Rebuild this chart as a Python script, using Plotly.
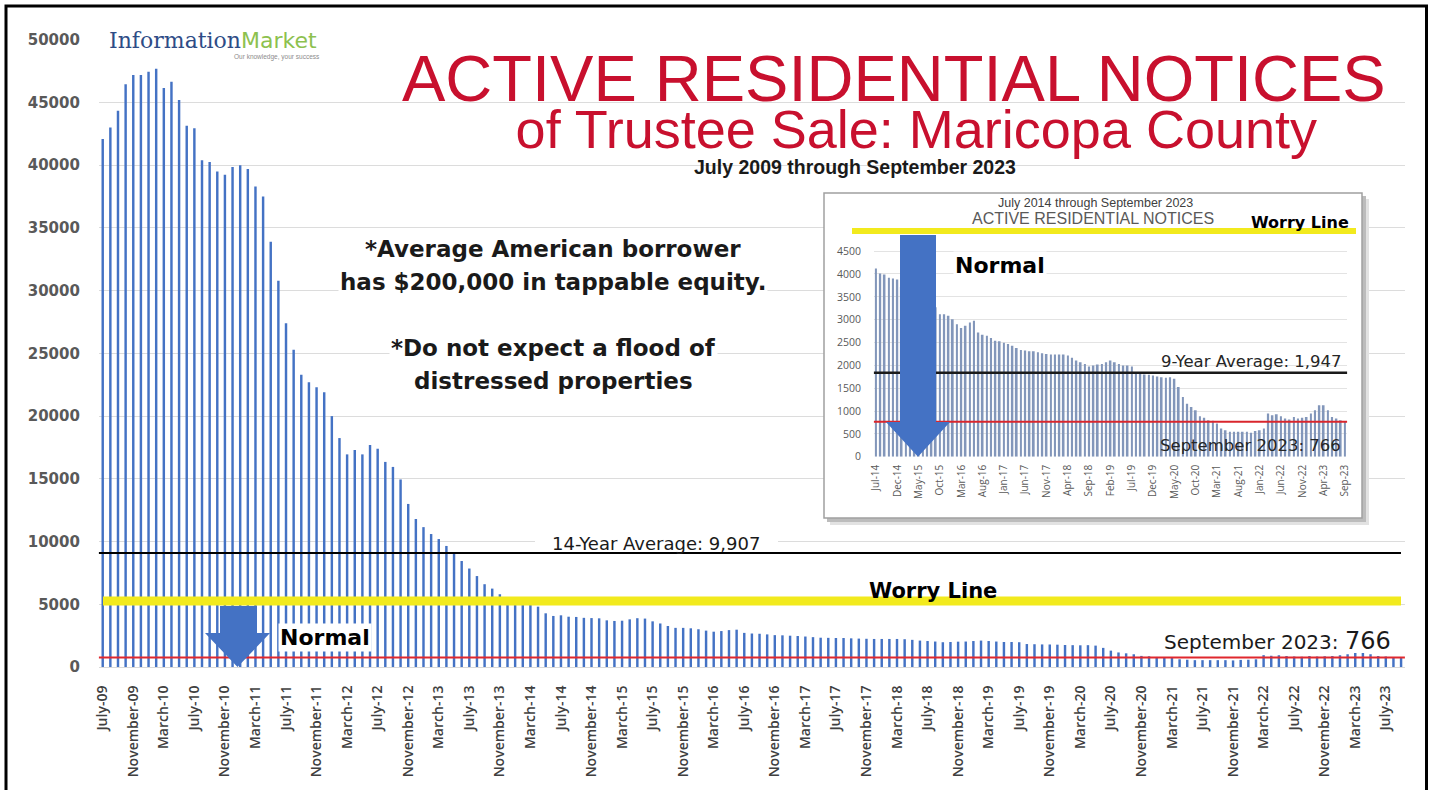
import pandas as pd
import plotly.graph_objects as go

W, H = 1433, 790

# monthly counts, July 2009 .. September 2023
months = pd.date_range("2009-07-01", "2023-09-01", freq="MS")
notices = [
    # 2009 (Jul-Dec)
    42100, 43000, 44350, 46450, 47200, 47200,
    # 2010
    47450, 47700, 46150, 46650, 45200, 43150, 42950, 40400, 40250, 39500, 39250, 39850,
    # 2011
    40000, 39700, 38300, 37500, 33900, 30800, 27400, 25300, 23300, 22700, 22300, 21900,
    # 2012
    20000, 18250, 16950, 17300, 16950, 17700, 17400, 16350, 15950, 14950, 13000, 11800,
    # 2013
    11150, 10600, 10200, 9650, 9100, 8450, 7850, 7250, 6600, 6250, 5800, 5500,
    # 2014
    5300, 5150, 5000, 4810, 4280, 4070, 4120, 4010, 3990, 3920, 3900, 3880,
    # 2015
    3720, 3670, 3690, 3800, 3890, 3860, 3640, 3470, 3270, 3120, 3120, 3085,
    # 2016
    3010, 2900, 2815, 2865, 2940, 2975, 2720, 2670, 2650, 2600, 2540, 2525,
    # 2017
    2495, 2470, 2430, 2380, 2335, 2325, 2310, 2310, 2285, 2265, 2250, 2235,
    # 2018
    2235, 2235, 2235, 2215, 2165, 2105, 2070, 2030, 1975, 1995, 2020, 2030,
    # 2019
    2070, 2105, 2070, 2030, 1995, 1995, 1975, 1830, 1815, 1800, 1795, 1780,
    # 2020
    1755, 1740, 1730, 1740, 1705, 1525, 1305, 1160, 1090, 1015, 885, 855,
    # 2021
    800, 785, 725, 615, 580, 545, 545, 545, 545, 545, 525, 565,
    # 2022
    580, 615, 945, 905, 930, 885, 835, 815, 870, 835, 855, 870,
    # 2023 (Jan-Sep)
    945, 1015, 1125, 1125, 1015, 870, 835, 800, 766,
]

avg_14yr_level = 9080
avg_9yr_level = 1840
current_level = 766
worry_main = 5260

inset_start = 60  # July 2014
inset_months = months[inset_start:]
inset_notices = notices[inset_start:]

main_ticks = list(range(0, len(months), 4))
main_ticktext = [months[i].strftime("%B-%y") for i in main_ticks]
inset_ticks = list(range(0, len(inset_months), 5))
inset_ticktext = [inset_months[i].strftime("%b-%y") for i in inset_ticks]

RED = "#C8102E"
BLUE = "#4472C4"
YELLOW = "#F2EA1D"


def px(x):
    return x / W


def py(y):
    return 1 - y / H


# pixel -> data helpers for the decorations
def mx(x):
    return (x - 102.72) / 7.6374


def my(y):
    return (667 - y) / 0.012544


def ix(x):
    return (x - 876.03) / 4.263


def iy(y):
    return (456.7 - y) / 0.04567


fig = go.Figure()
fig.add_trace(go.Bar(x=list(range(len(notices))), y=notices, width=0.32,
                     marker=dict(color=BLUE, line_width=0), hoverinfo="skip"))
fig.add_trace(go.Bar(x=list(range(len(inset_notices))), y=inset_notices, width=0.42,
                     marker=dict(color="#8296BA", line_width=0), xaxis="x2", yaxis="y2",
                     hoverinfo="skip"))

fig.update_layout(
    width=W, height=H, margin=dict(l=0, r=0, t=0, b=0, autoexpand=False),
    paper_bgcolor="white", plot_bgcolor="white", showlegend=False,
    xaxis=dict(domain=[px(98.9), px(1404.9)], range=[-0.5, 170.5], tickmode="array",
               tickvals=main_ticks, ticktext=main_ticktext, tickangle=-90,
               tickfont=dict(family="Open Sans", size=14, color="#404040", weight=600),
               showgrid=False, showline=True, linecolor="#d9d9d9", zeroline=False,
               ticks="", ticklabelstandoff=12),
    yaxis=dict(domain=[py(667), py(39.8)], range=[0, 50000],
               tickvals=list(range(0, 50001, 5000)), tickformat="d",
               tickfont=dict(family="DejaVu Sans", size=15, color="#595959", weight="bold"),
               showgrid=True, gridcolor="#dcdcdc", zeroline=False, ticks="",
               ticklabelstandoff=18),
    xaxis2=dict(domain=[px(873.9), px(1347.1)], anchor="y2", range=[-0.5, 110.5],
                tickmode="array", tickvals=inset_ticks, ticktext=inset_ticktext,
                tickangle=-90, tickfont=dict(family="Open Sans", size=10, color="#595959"),
                showgrid=False, zeroline=False, ticks="", ticklabelstandoff=5),
    yaxis2=dict(domain=[py(456.7), py(230.6)], anchor="x2", range=[0, 4950],
                tickvals=list(range(0, 4501, 500)), tickformat="d",
                tickfont=dict(family="Open Sans", size=10.5, color="#595959"),
                showgrid=True, gridcolor="#e3e3e3", zeroline=False, ticks="",
                ticklabelstandoff=12),
)


def arrow_path(xf, yf, shaft, head, top, neck, tip):
    tx = (head[0] + head[1]) / 2
    pts = [(shaft[0], top), (shaft[1], top), (shaft[1], neck), (head[1], neck),
           (tx, tip), (head[0], neck), (shaft[0], neck)]
    return "M " + " L ".join(f"{xf(a):.3f},{yf(b):.3f}" for a, b in pts) + " Z"


shapes = [
    # inset card with soft shadow, above main gridlines
    dict(type="rect", xref="x", yref="y", layer="between", x0=mx(830), x1=mx(1369),
         y0=my(525), y1=my(199), fillcolor="#e2e2e2", line_width=0),
    dict(type="rect", xref="x", yref="y", layer="between", x0=mx(827), x1=mx(1366),
         y0=my(522), y1=my(196), fillcolor="#bcbcbc", line_width=0),
    dict(type="rect", xref="x", yref="y", layer="between", x0=mx(824), x1=mx(1362),
         y0=my(518), y1=my(193), fillcolor="white", line=dict(color="#a0a0a0", width=1.5)),
    # white patch hiding the gridline behind the average label
    dict(type="rect", xref="x", yref="y", layer="between", x0=mx(535), x1=mx(778),
         y0=my(549), y1=my(534), fillcolor="white", line_width=0),
    # main reference lines
    dict(type="line", xref="x domain", yref="y", x0=0, x1=0.997,
         y0=avg_14yr_level, y1=avg_14yr_level, line=dict(color="black", width=2)),
    dict(type="line", xref="x", yref="y", x0=mx(103), x1=mx(1401),
         y0=worry_main, y1=worry_main, line=dict(color=YELLOW, width=9)),
    dict(type="line", xref="x domain", yref="y", x0=0, x1=1,
         y0=current_level, y1=current_level, line=dict(color="#E0282E", width=2)),
    dict(type="path", xref="x", yref="y", fillcolor=BLUE, line_width=0,
         path=arrow_path(mx, my, (220, 257), (205, 270), 606, 633, 667)),
    # inset reference lines
    dict(type="line", xref="x2 domain", yref="y2", x0=0, x1=1,
         y0=avg_9yr_level, y1=avg_9yr_level, line=dict(color="#1a1a1a", width=2.5)),
    dict(type="line", xref="x2 domain", yref="y2", x0=0, x1=1,
         y0=current_level, y1=current_level, line=dict(color="#D9262C", width=2)),
    dict(type="line", xref="x2 domain", yref="y2 domain", x0=(852 - 873.9) / 473.2,
         x1=(1356 - 873.9) / 473.2, y0=(456.7 - 231) / 226.1, y1=(456.7 - 231) / 226.1,
         line=dict(color=YELLOW, width=6)),
    dict(type="path", xref="x2", yref="y2", fillcolor=BLUE, line_width=0,
         path=arrow_path(ix, iy, (900, 936), (886, 950), 235, 422, 456.7)),
    # outer frame
    dict(type="rect", xref="paper", yref="paper", x0=px(6), x1=px(1426.5),
         y0=py(800), y1=py(6), line=dict(color="black", width=3)),
]
fig.update_layout(shapes=shapes)


def note(x, y, text, size, color="#1a1a1a", family="DejaVu Sans", weight="normal",
         xanchor="center", yanchor="middle", bg=None, **kw):
    d = dict(xref="paper", yref="paper", x=px(x), y=py(y), text=text, showarrow=False,
             xanchor=xanchor, yanchor=yanchor,
             font=dict(family=family, size=size, color=color, weight=weight))
    if bg:
        d.update(bgcolor=bg, borderpad=1)
    d.update(kw)
    return d


logo = ("<span style='font-family:DejaVu Serif;color:#2E4C86'>Information</span>"
        "<span style='font-family:DejaVu Sans;color:#8DC14F'>Market</span>")
title = ("<span style='font-size:65px'>ACTIVE RESIDENTIAL NOTICES</span><br>"
         "<span style='font-size:54px'>&nbsp;&nbsp;&nbsp;of Trustee Sale: Maricopa County</span>")

annotations = [
    note(107, 40, logo, 22, xanchor="left"),
    note(322, 57, "Our knowledge, your success", 6.5, color="#8c8c8c",
         family="Liberation Sans", xanchor="right"),
    note(894, 100, title, 36, color=RED, family="Liberation Sans"),
    note(855, 167, "July 2009 through September 2023", 19.5, family="Liberation Sans",
         weight="bold"),
    note(553, 249, "*Average American borrower", 23, weight="bold", bg="white"),
    note(553, 282, "has $200,000 in tappable equity.", 23, weight="bold", bg="white"),
    note(553, 348, "*Do not expect a flood of", 23, weight="bold", bg="white"),
    note(553, 381, "distressed properties", 23, weight="bold", bg="white"),
    note(656, 543, "14-Year Average: 9,907", 18),
    note(933, 591, "Worry Line", 21, color="black", weight="bold"),
    note(324.5, 637.5, "Normal", 22, color="black", weight="bold", bg="white"),
    note(1393, 641, "September 2023: <span style='font-size:24px'>766</span>", 20,
         xanchor="right"),
    # inset texts
    note(1095, 203, "July 2014 through September 2023", 12.5, color="#404040",
         family="Liberation Sans"),
    note(1093, 219, "ACTIVE RESIDENTIAL NOTICES", 16, color="#595959",
         family="Liberation Sans"),
    note(1300, 223, "Worry Line", 16, color="black", weight="bold"),
    note(1000, 265, "Normal", 22, color="black", weight="bold", bg="white"),
    note(1343, 361, "9-Year Average: 1,947", 16.5, color="#262626", xanchor="right"),
    note(1343, 445, "September 2023: 766", 16.5, color="#262626", xanchor="right"),
]
fig.update_layout(annotations=annotations)

# page margin reset so the 1433x790 figure fills the window exactly
fig.write_html("out.html", config={"displayModeBar": False},
               post_script="document.body.style.margin='0';")
